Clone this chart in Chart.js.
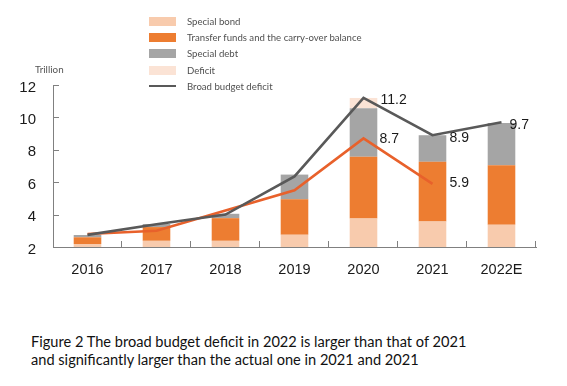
<!DOCTYPE html>
<html>
<head>
<meta charset="utf-8">
<script src="https://cdn.jsdelivr.net/npm/chart.js@4/dist/chart.umd.min.js"></script>
<style>
  body { margin:0; background:#fff; }
  #wrap { position:relative; width:567px; height:386px; overflow:hidden; }
  #chart { position:absolute; left:0; top:0; }
  #legend { position:absolute; left:149px; top:13px; font-family:Lato, sans-serif; font-size:9.6px; color:#505050; }
  #legend .row { height:16.3px; display:flex; align-items:center; }
  #legend .sw { width:27px; height:9px; margin-right:11px; }
  #unit { position:absolute; left:35px; top:63px; font-family:Lato, sans-serif; font-size:9.8px; color:#555; }
  #caption { position:absolute; left:31px; top:333px; font-family:Lato, sans-serif; font-size:14.6px; line-height:18px; color:#111; }
</style>
</head>
<body>
<div id="wrap">
  <canvas id="chart" width="567" height="300"></canvas>
  <div id="legend"></div>
  <div id="unit">Trillion</div>
  <div id="caption">Figure 2 The broad budget deficit in 2022 is larger than that of 2021<br>and significantly larger than the actual one in 2021 and 2021</div>
</div>
<script>
// data (trillion)
const years = ['2016','2017','2018','2019','2020','2021','2022E'];
const specialBond   = [2.18, 2.38, 2.38, 2.76, 3.76, 3.57, 3.37];
const transferFunds = [0.42, 0.85, 1.40, 2.18, 3.81, 3.69, 3.68];
const specialDebt   = [0.14, 0.19, 0.27, 1.53, 3.00, 1.64, 2.60];
const deficit       = [null, null, null, null, 0.63, null, null];
const broadDeficit  = [2.75, 3.4, 4.0, 6.36, 11.2, 8.9, 9.7];
const actualDeficit = [2.8, 3.0, 4.25, 5.5, 8.7, 5.9, null];
const yTicks = [2, 4, 6, 8, 10, 12];

// which points get a value label, and where the text sits
const valueLabels = [
  {ds: 4, i: 4, dx: 17, dy: 2},
  {ds: 5, i: 4, dx: 16, dy: 1},
  {ds: 4, i: 5, dx: 17, dy: 3},
  {ds: 5, i: 5, dx: 17, dy: -1},
  {ds: 4, i: 6, dx: 8, dy: 3}
];

const innerTicks = {
  id: 'innerTicks',
  afterDraw(chart) {
    const ctx = chart.ctx, x = chart.scales.x, y = chart.scales.y;
    const ca = chart.chartArea;
    ctx.save();
    ctx.strokeStyle = '#808080';
    ctx.lineWidth = 1;
    ctx.beginPath();
    yTicks.forEach(v => {
      if (v === yTicks[0]) return;
      const py = Math.round(y.getPixelForValue(v)) + 0.5;
      ctx.moveTo(ca.left, py); ctx.lineTo(ca.left + 6, py);
    });
    for (let i = 0; i < years.length; i++) {
      let px = i < years.length - 1 ? (x.getPixelForValue(i) + x.getPixelForValue(i + 1)) / 2 : ca.right;
      px = Math.round(px) - 0.5;
      ctx.moveTo(px, ca.bottom); ctx.lineTo(px, ca.bottom - 6);
    }
    ctx.stroke();

    ctx.fillStyle = '#1a1a1a';
    ctx.font = '14px "Liberation Sans", Arial, sans-serif';
    ctx.textBaseline = 'middle';
    ctx.textAlign = 'left';
    valueLabels.forEach(l => {
      const pt = chart.getDatasetMeta(l.ds).data[l.i];
      const v = chart.data.datasets[l.ds].data[l.i];
      ctx.fillText(v.toFixed(1), pt.x + l.dx, pt.y + l.dy);
    });
    ctx.restore();
  }
};

const chart = new Chart(document.getElementById('chart'), {
  type: 'bar',
  data: {
    labels: years,
    datasets: [
      {label: 'Special bond', data: specialBond, backgroundColor: '#F8CBAD', stack: 'bars', order: 1},
      {label: 'Transfer funds and the carry-over balance', data: transferFunds, backgroundColor: '#ED7D31', stack: 'bars', order: 1},
      {label: 'Special debt', data: specialDebt, backgroundColor: '#A5A5A5', stack: 'bars', order: 1},
      {label: 'Deficit', data: deficit, backgroundColor: '#FBE3D5', stack: 'bars', order: 1},
      {label: 'Broad budget deficit', type: 'line', data: broadDeficit, borderColor: '#595959', backgroundColor: '#595959',
        borderWidth: 2.6, pointRadius: 0, tension: 0, stack: 'l1', order: 0},
      {label: '', type: 'line', data: actualDeficit, borderColor: '#E8612B', backgroundColor: '#E8612B',
        borderWidth: 2.6, pointRadius: 0, tension: 0, stack: 'l2', order: 0}
    ]
  },
  options: {
    responsive: false,
    animation: false,
    layout: {padding: {left: 0, right: 31, top: 85, bottom: 0}},
    datasets: {bar: {categoryPercentage: 1, barPercentage: 0.4}},
    plugins: {legend: {display: false}, tooltip: {enabled: false}},
    scales: {
      x: {
        stacked: true,
        grid: {display: false},
        border: {color: '#808080', width: 1},
        ticks: {color: '#1a1a1a', padding: 6, font: {family: '"Liberation Sans", Arial', size: 14.5}},
        afterFit(s) { s.height = 53; }
      },
      y: {
        stacked: true,
        min: 2, max: 12,
        grid: {display: false},
        border: {color: '#808080', width: 1},
        ticks: {stepSize: 2, color: '#1a1a1a', padding: 9, labelOffset: 2.5, font: {family: '"Liberation Sans", Arial', size: 15}},
        afterFit(s) { s.width = 53; }
      }
    }
  },
  plugins: [innerTicks]
});

// html legend from the datasets
const legendEl = document.getElementById('legend');
chart.data.datasets.forEach(ds => {
  if (!ds.label) return;
  const row = document.createElement('div');
  row.className = 'row';
  const sw = document.createElement('div');
  sw.className = 'sw';
  if (ds.type === 'line') {
    sw.style.height = '2px';
    sw.style.background = ds.borderColor;
  } else {
    sw.style.background = ds.backgroundColor;
  }
  const t = document.createElement('span');
  t.textContent = ds.label;
  row.appendChild(sw); row.appendChild(t);
  legendEl.appendChild(row);
});
</script>
</body>
</html>
